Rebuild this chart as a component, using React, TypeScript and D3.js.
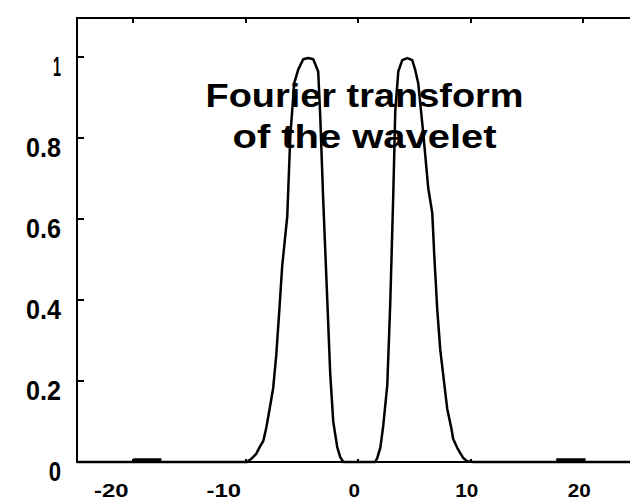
import React from "react";
import * as d3 from "d3";

const freq = [-25, -9.87, -9.42, -9.07, -8.8, -8.44, -8.18, -7.91, -7.56, -7.29, -7.02, -6.76, -6.31, -6.04, -5.69, -5.33, -4.89, -4.44, -4.0, -3.56, -3.38, -3.11, -2.76, -2.49, -2.22, -1.87, -1.6, -1.33, 1.51, 1.69, 1.96, 2.22, 2.58, 2.84, 3.11, 3.29, 3.56, 3.91, 4.36, 4.8, 5.07, 5.33, 5.78, 6.22, 6.58, 6.76, 7.02, 7.29, 7.64, 7.91, 8.27, 8.44, 8.8, 9.07, 9.33, 9.69, 10.22, 25];
const amp = [0, 0, 0.01, 0.02, 0.035, 0.052, 0.084, 0.126, 0.183, 0.264, 0.373, 0.484, 0.607, 0.805, 0.936, 0.97, 0.995, 0.998, 0.995, 0.965, 0.855, 0.644, 0.405, 0.217, 0.099, 0.037, 0.012, 0, 0, 0.01, 0.035, 0.089, 0.19, 0.388, 0.657, 0.867, 0.965, 0.993, 0.998, 0.993, 0.968, 0.936, 0.812, 0.677, 0.615, 0.509, 0.378, 0.277, 0.195, 0.131, 0.084, 0.057, 0.035, 0.022, 0.01, 0.002, 0, 0];

const xTicks = [-20, -10, 0, 10, 20];
const xTickLabels = ["-20", "-10", "0", "10", "20"];
const yTicks = [0, 0.2, 0.4, 0.6, 0.8, 1];
const yTickLabels = ["0", "0.2", "0.4", "0.6", "0.8", "1"];
const baseMarks = [[-20, -17.5], [17.6, 20.2]];
const titleLines = ["Fourier transform", "of the wavelet"];

const W = 630;
const H = 502;

export default function App() {
  const x = d3.scaleLinear().domain([-25, 25]).range([77, 639.5]);
  const y = d3.scaleLinear().domain([0, 1.097]).range([462, 18]);
  const pts: [number, number][] = freq.map((f, i) => [f, amp[i]]);
  const line = d3.line<[number, number]>().x((d) => x(d[0])).y((d) => y(d[1]));
  const font = "'Liberation Sans', Arial, sans-serif";
  const labelLen = (s: string, w: number) => (s === "1" ? 8 : s.length * w - (s.includes(".") ? 2 : 0));

  return (
    <div style={{ position: "fixed", left: 0, top: 0, width: W, height: H, background: "#fff" }}>
      <svg width={W} height={H} style={{ display: "block" }}>
        <rect x={0} y={0} width={W} height={H} fill="#fff" />
        {/* title */}
        {titleLines.map((t, i) => (
          <text
            key={t}
            x={364.5}
            y={i === 0 ? 107 : 148}
            textAnchor="middle"
            fontFamily={font}
            fontWeight="bold"
            fontSize={33}
            textLength={i === 0 ? 318 : 264}
            lengthAdjust="spacingAndGlyphs"
            fill="#000"
          >
            {t}
          </text>
        ))}
        {/* curve */}
        <path d={line(pts) || ""} fill="none" stroke="#000" strokeWidth={2.5} strokeLinejoin="round" />
        {/* base marks */}
        {baseMarks.map((m, i) => (
          <line key={i} x1={x(m[0])} x2={x(m[1])} y1={y(0) - 1.5} y2={y(0) - 1.5} stroke="#000" strokeWidth={4.5} />
        ))}
        {/* frame */}
        <g shapeRendering="crispEdges" stroke="#000" strokeWidth={2}>
          <line x1={77} x2={W} y1={18} y2={18} />
          <line x1={77} x2={W} y1={y(0)} y2={y(0)} />
          <line x1={77} x2={77} y1={17} y2={y(0) + 1} />
          {xTicks.map((t) => (
            <line key={"tt" + t} x1={x(t)} x2={x(t)} y1={18} y2={23} />
          ))}
          {xTicks.map((t) => (
            <line key={"bt" + t} x1={x(t)} x2={x(t)} y1={y(0)} y2={y(0) - 3} />
          ))}
          {yTicks.map((t) => (
            <line key={"yt" + t} x1={77} x2={84} y1={y(t)} y2={y(t)} />
          ))}
        </g>
        {/* y labels */}
        {yTicks.map((t, i) => (
          <text
            key={"yl" + t}
            x={61}
            y={y(t) + 18.5}
            textAnchor="end"
            fontFamily={font}
            fontWeight="bold"
            fontSize={28}
            textLength={labelLen(yTickLabels[i], 12.3)}
            lengthAdjust="spacingAndGlyphs"
            fill="#000"
          >
            {yTickLabels[i]}
          </text>
        ))}
        {/* x labels */}
        {xTicks.map((t, i) => (
          <text
            key={"xl" + t}
            x={x(t) - 4 - (t < 0 ? 18 : 0)}
            y={496.5}
            textAnchor="middle"
            fontFamily={font}
            fontWeight="bold"
            fontSize={18}
            textLength={labelLen(xTickLabels[i], 11.5)}
            lengthAdjust="spacingAndGlyphs"
            fill="#000"
          >
            {xTickLabels[i]}
          </text>
        ))}
      </svg>
    </div>
  );
}
